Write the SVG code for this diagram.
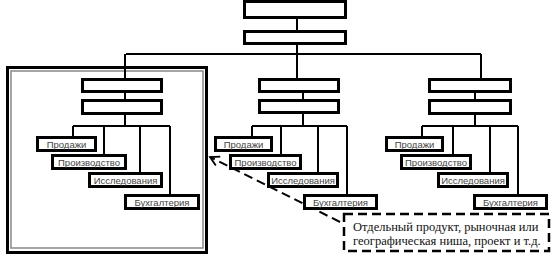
<svg xmlns="http://www.w3.org/2000/svg" width="558" height="267" viewBox="0 0 558 267">
<style>
.b{fill:#fff;stroke:#000;stroke-width:3}
.c{fill:none;stroke:#000;stroke-width:2}
.t{font-family:"Liberation Sans",Arial,sans-serif;font-size:9.5px;fill:#444;text-anchor:middle}
.n{font-family:"Liberation Serif","Times New Roman",serif;font-size:12.5px;fill:#111}
</style>
<defs>
<marker id="ah" markerWidth="12" markerHeight="12" refX="10" refY="6" orient="auto" markerUnits="userSpaceOnUse">
<path d="M1,1 L10,6 L1,11" fill="none" stroke="#000" stroke-width="1.8"/>
</marker>
</defs>
<rect id="frame" x="7.5" y="67.5" width="199" height="185" fill="#fff" stroke="#000" stroke-width="3"/>
<rect x="11" y="71" width="192" height="177" fill="none" stroke="#888" stroke-width="1.5"/>
<g id="connectors">
<path class="c" d="M297,19V30M297,45V54M126,54H481"/>
<path class="c" d="M125,54V78M125,93V99M125,115V126M73,126H170M73,126V136M104,126V155M140,126V173M170,126V195"/>
<path class="c" d="M297,54V78M303,93V99M303,114V126M252,126H347M252,126V137M281,126V155M318,126V173M347,126V195"/>
<path class="c" d="M481,54V78M475,93V99M475,115V126M422,126H518M422,126V137M453,126V155M490,126V173M518,126V195"/>
<line x1="340" y1="222" x2="210" y2="157" stroke="#000" stroke-width="2" stroke-dasharray="9 5" marker-end="url(#ah)"/>
</g>
<g id="top1"><rect class="b" x="244.5" y="1.5" width="101" height="16"/></g>
<g id="top2"><rect class="b" x="244.5" y="31.5" width="101" height="12"/></g>
<g id="l1"><rect class="b" x="82.5" y="79.5" width="79" height="12"/></g>
<g id="l2"><rect class="b" x="82.5" y="100.5" width="79" height="13"/></g>
<g id="l-sales"><rect class="b" x="37.5" y="137.5" width="58" height="13"/><text class="t" x="66.5" y="147.5">Продажи</text></g>
<g id="l-prod"><rect class="b" x="52.5" y="155.5" width="73" height="13"/><text class="t" x="89" y="165.5">Производство</text></g>
<g id="l-res"><rect class="b" x="89.5" y="173.5" width="72" height="13"/><text class="t" x="125.5" y="183.5">Исследования</text></g>
<g id="l-acc"><rect class="b" x="125.5" y="195.5" width="73" height="13"/><text class="t" x="162" y="205.5">Бухгалтерия</text></g>
<g id="m1"><rect class="b" x="259.5" y="79.5" width="79" height="12"/></g>
<g id="m2"><rect class="b" x="259.5" y="100.5" width="79" height="12"/></g>
<g id="m-sales"><rect class="b" x="215.5" y="137.5" width="56" height="13"/><text class="t" x="243.5" y="147.5">Продажи</text></g>
<g id="m-prod"><rect class="b" x="230.5" y="155.5" width="70" height="13"/><text class="t" x="265.5" y="165.5">Производство</text></g>
<g id="m-res"><rect class="b" x="268.5" y="173.5" width="69" height="13"/><text class="t" x="303" y="183.5">Исследования</text></g>
<g id="m-acc"><rect class="b" x="304.5" y="195.5" width="72" height="13"/><text class="t" x="340.5" y="205.5">Бухгалтерия</text></g>
<g id="r1"><rect class="b" x="429.5" y="79.5" width="81" height="12"/></g>
<g id="r2"><rect class="b" x="429.5" y="100.5" width="81" height="13"/></g>
<g id="r-sales"><rect class="b" x="386.5" y="137.5" width="56" height="13"/><text class="t" x="414.5" y="147.5">Продажи</text></g>
<g id="r-prod"><rect class="b" x="401.5" y="155.5" width="69" height="13"/><text class="t" x="436" y="165.5">Производство</text></g>
<g id="r-res"><rect class="b" x="438.5" y="173.5" width="69" height="13"/><text class="t" x="473" y="183.5">Исследования</text></g>
<g id="r-acc"><rect class="b" x="474.5" y="195.5" width="72" height="13"/><text class="t" x="510.5" y="205.5">Бухгалтерия</text></g>
<g id="note">
<rect x="344" y="214" width="205" height="37" fill="#fff" stroke="#000" stroke-width="2.5" stroke-dasharray="9 5"/>
<text class="n" x="353" y="231">Отдельный продукт, рыночная или</text>
<text class="n" x="353" y="245">географическая ниша, проект и т.д.</text>
</g>
</svg>
